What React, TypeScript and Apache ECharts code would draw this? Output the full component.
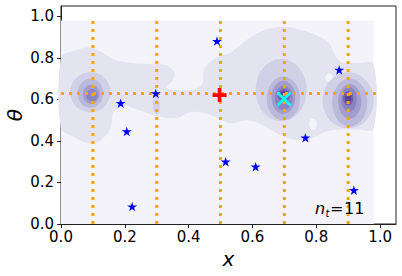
import React, { useEffect, useRef } from "react";
import * as echarts from "echarts";

// ---- data ----
const xTicks = [0, 0.2, 0.4, 0.6, 0.8, 1.0];
const yTicks = [0, 0.2, 0.4, 0.6, 0.8, 1.0];
const verticalLinesX = [0.1, 0.3, 0.5, 0.7, 0.9];
const horizontalLineY = 0.628;

const starX = [0.489, 0.297, 0.187, 0.206, 0.223, 0.516, 0.61, 0.766, 0.918, 0.872];
const starY = [0.881, 0.629, 0.582, 0.446, 0.084, 0.3, 0.276, 0.416, 0.163, 0.742];

const redPlus = [0.497, 0.621];
const cyanCross = [0.699, 0.602];

// contour fill colours (level 0 = lightest)
const levelColors = ["#f3f3f9", "#e4e4f0", "#d0d0e6", "#b9b9da", "#a19ecd", "#8a85c0", "#7162ab", "#5b3e99"];

// outer box of the filled contour grid
const gridBox = [[0, 0], [0.98, 0], [0.98, 0.98], [0, 0.98]];

// level-1 region outline
const level1Region = [
  [0, 0.8], [0.04, 0.835], [0.09, 0.85], [0.13, 0.825], [0.17, 0.79], [0.22, 0.775],
  [0.28, 0.77], [0.33, 0.765], [0.355, 0.73], [0.35, 0.69], [0.33, 0.66], [0.34, 0.648],
  [0.4, 0.645], [0.43, 0.655], [0.445, 0.68], [0.445, 0.72], [0.455, 0.76], [0.475, 0.79],
  [0.5, 0.81], [0.53, 0.825], [0.56, 0.86], [0.6, 0.905], [0.65, 0.94], [0.7, 0.95],
  [0.75, 0.935], [0.8, 0.91], [0.84, 0.87], [0.86, 0.81], [0.88, 0.78], [0.93, 0.775],
  [0.98, 0.77], [0.98, 0.46], [0.93, 0.455], [0.87, 0.455], [0.82, 0.44], [0.79, 0.415],
  [0.74, 0.405], [0.7, 0.42], [0.66, 0.45], [0.62, 0.485], [0.58, 0.5], [0.53, 0.485],
  [0.47, 0.525], [0.41, 0.54], [0.36, 0.51], [0.3, 0.52], [0.25, 0.545], [0.2, 0.57],
  [0.165, 0.54], [0.155, 0.46], [0.12, 0.4], [0.08, 0.39], [0.04, 0.42], [0, 0.46],
];

// [level, cx, cy, rx, ry]
const lightSpots = [
  [0, 0.79, 0.48, 0.012, 0.028],
  [0, 0.84, 0.705, 0.012, 0.02],
];
const leftBlob = [
  [2, 0.092, 0.635, 0.063, 0.097],
  [3, 0.092, 0.63, 0.04, 0.07],
  [4, 0.095, 0.625, 0.026, 0.046],
  [5, 0.097, 0.62, 0.018, 0.03],
];
const smallSpot = [[2, 0.299, 0.57, 0.011, 0.04]];
const middleBlob = [
  [2, 0.69, 0.645, 0.08, 0.15],
  [3, 0.697, 0.605, 0.052, 0.105],
  [4, 0.697, 0.61, 0.037, 0.08],
  [5, 0.698, 0.607, 0.028, 0.058],
  [6, 0.698, 0.62, 0.019, 0.03],
  [7, 0.698, 0.62, 0.0125, 0.02],
];
const rightBlob = [
  [2, 0.9, 0.595, 0.08, 0.135],
  [3, 0.905, 0.585, 0.055, 0.115],
  [4, 0.905, 0.59, 0.036, 0.083],
  [5, 0.903, 0.6, 0.024, 0.06],
  [6, 0.9, 0.605, 0.016, 0.035],
  [7, 0.9, 0.605, 0.01, 0.02],
];

type Shape =
  | { kind: "poly"; level: number; pts: number[][]; smooth: number }
  | { kind: "ell"; level: number; cx: number; cy: number; rx: number; ry: number };

const shapes: Shape[] = [
  { kind: "poly", level: 0, pts: gridBox, smooth: 0 },
  { kind: "poly", level: 1, pts: level1Region, smooth: 0.35 },
  ...[...lightSpots, ...smallSpot, ...leftBlob, ...middleBlob, ...rightBlob].map(
    (e) => ({ kind: "ell", level: e[0], cx: e[1], cy: e[2], rx: e[3], ry: e[4] } as Shape)
  ),
];

const STAR =
  "path://M50 0 L61.23 34.55 L97.55 34.55 L68.17 55.9 L79.39 90.45 L50 69.1 L20.61 90.45 L31.83 55.9 L2.45 34.55 L38.77 34.55 Z";
const PLUS = "path://M37 0 H63 V37 H100 V63 H63 V100 H37 V63 H0 V37 H37 Z";
const CROSS =
  "path://M0 13 L13 0 L50 37 L87 0 L100 13 L63 50 L100 87 L87 100 L50 63 L13 100 L0 87 L37 50 Z";

const FONT = "DejaVu Sans";
const AX = "#222";

export default function App() {
  const ref = useRef<HTMLDivElement>(null);
  useEffect(() => {
    if (!ref.current) return;
    const chart = echarts.init(ref.current, null, { renderer: "svg" });
    const lineSeries = verticalLinesX.map((x) => ({
      type: "line",
      data: [[x, 0], [x, 1.0]],
      symbol: "none",
      z: 3,
      lineStyle: { color: "#ffa500", width: 3, type: [3, 5], cap: "butt" },
    }));
    chart.setOption({
      animation: false,
      grid: {
        left: 61,
        top: 6,
        right: 6,
        bottom: 52,
        outerBoundsMode: "none",
        containLabel: false,
        show: true,
        borderColor: AX,
        borderWidth: 1,
        backgroundColor: "transparent",
      },
      xAxis: {
        type: "value",
        min: 0,
        max: 1.05,
        name: "x",
        nameLocation: "middle",
        nameGap: 23,
        nameTextStyle: { fontSize: 20, fontStyle: "italic", fontFamily: FONT, color: "#000" },
        axisLine: { show: true, lineStyle: { color: AX } },
        axisTick: { show: true, length: 4, customValues: xTicks, lineStyle: { color: AX } },
        axisLabel: {
          customValues: xTicks,
          fontSize: 15,
          fontFamily: FONT,
          color: "#000",
          margin: 5,
          formatter: (v: number) => v.toFixed(1),
        },
        splitLine: { show: false },
      },
      yAxis: {
        type: "value",
        min: 0,
        max: 1.05,
        axisLine: { show: true, lineStyle: { color: AX } },
        axisTick: { show: true, length: 4, customValues: yTicks, lineStyle: { color: AX } },
        axisLabel: {
          customValues: yTicks,
          fontSize: 15,
          fontFamily: FONT,
          color: "#000",
          margin: 7,
          formatter: (v: number) => v.toFixed(1),
        },
        splitLine: { show: false },
      },
      series: [
        {
          type: "custom",
          z: 1,
          silent: true,
          data: shapes.map((_, i) => [0.5, 0.5, i]),
          encode: { x: 0, y: 1 },
          renderItem: (params: any, api: any) => {
            const s = shapes[api.value(2)];
            let pts: number[][] = [];
            let smooth = 0;
            if (s.kind === "poly") {
              pts = s.pts.map((p) => api.coord(p));
              smooth = s.smooth;
            } else {
              const n = 60;
              for (let k = 0; k < n; k++) {
                const a = (2 * Math.PI * k) / n;
                pts.push(api.coord([s.cx + s.rx * Math.cos(a), s.cy + s.ry * Math.sin(a)]));
              }
            }
            return {
              type: "polygon",
              shape: { points: pts, smooth },
              style: { fill: levelColors[s.level], stroke: null },
            };
          },
        },
        ...lineSeries,
        {
          type: "line",
          data: [[0, horizontalLineY], [1.0, horizontalLineY]],
          symbol: "none",
          z: 3,
          lineStyle: { color: "#ffa500", width: 3, type: [3, 5], cap: "butt" },
        },
        {
          type: "scatter",
          z: 4,
          data: starX.map((x, i) => [x, starY[i]]),
          symbol: STAR,
          symbolKeepAspect: true,
          symbolSize: 10,
          itemStyle: { color: "#0000ff", opacity: 1 },
        },
        {
          type: "scatter",
          z: 5,
          data: [redPlus],
          symbol: PLUS,
          symbolSize: 14,
          itemStyle: { color: "#ff0000", opacity: 1 },
        },
        {
          type: "scatter",
          z: 5,
          data: [cyanCross],
          symbol: CROSS,
          symbolSize: 15,
          itemStyle: { color: "#00ffff", opacity: 1 },
        },
      ],
      graphic: [
        {
          type: "text",
          x: 15,
          y: 115,
          rotation: Math.PI / 2,
          z: 10,
          style: {
            text: "θ",
            fontSize: 20,
            fontStyle: "italic",
            fontFamily: FONT,
            fill: "#000",
            align: "center",
            verticalAlign: "middle",
          },
        },
        {
          type: "text",
          x: 315,
          y: 208,
          z: 10,
          style: { text: "n", fontSize: 16, fontStyle: "italic", fontFamily: FONT, fill: "#000", verticalAlign: "middle" },
        },
        {
          type: "text",
          x: 325.5,
          y: 213,
          z: 10,
          style: { text: "t", fontSize: 10, fontStyle: "italic", fontFamily: FONT, fill: "#000", verticalAlign: "middle" },
        },
        {
          type: "text",
          x: 330,
          y: 208,
          z: 10,
          style: { text: "=", fontSize: 16, fontFamily: FONT, fill: "#000", verticalAlign: "middle" },
        },
        {
          type: "text",
          x: 344,
          y: 208,
          z: 10,
          style: { text: "11", fontSize: 16, fontFamily: FONT, fill: "#000", verticalAlign: "middle" },
        },
      ],
    });
    return () => chart.dispose();
  }, []);
  return <div ref={ref} style={{ width: 402, height: 276, position: "absolute", left: 0, top: 0 }} />;
}
